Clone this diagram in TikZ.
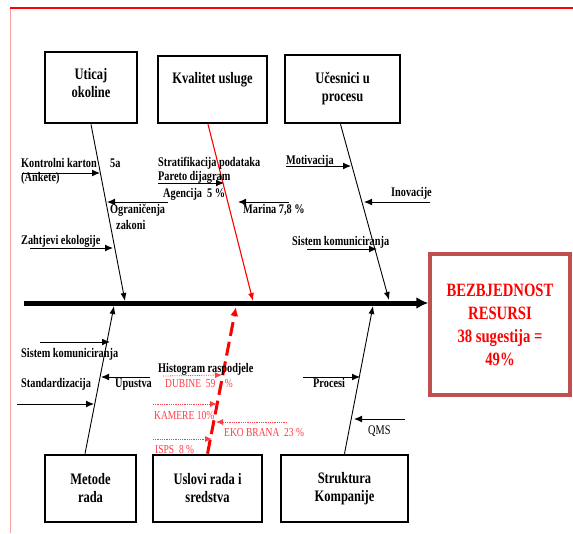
\documentclass[tikz,border=0pt]{standalone}
\usepackage{fontspec}
\setmainfont{Liberation Serif}[FakeStretch=0.78]
\usetikzlibrary{arrows.meta,positioning}
\definecolor{fishred}{RGB}{255,0,0}
\definecolor{notered}{RGB}{255,60,70}
\definecolor{boxred}{RGB}{192,80,77}
\definecolor{framepink}{RGB}{245,160,160}

\begin{document}
\begin{tikzpicture}[x=1pt, y=-1pt,
    cause/.style={draw, line width=2.6pt, align=center, inner sep=0pt,
        font=\bfseries\fontsize{16}{18}\selectfont},
    txt/.style={anchor=base west, inner sep=0pt,
        font=\bfseries\fontsize{13.2}{15}\selectfont},
    note/.style={anchor=base west, inner sep=0pt, text=notered,
        font=\fontsize{12.2}{14}\selectfont},
    bone/.style={-{Latex[length=8pt,width=6pt]}, line width=0.9pt},
    sub/.style={-{Latex[length=8pt,width=7pt]}, line width=1pt},
    dots/.style={densely dotted, notered, line width=0.8pt,
        -{Latex[length=7pt,width=6pt]}},
]
    \useasboundingbox (0,0) rectangle (573,533);

    % frame
    \draw[framepink, line width=1pt] (10.5,8) -- (10.5,533);
    \draw[fishred, line width=1.2pt] (10,8) -- (573,8);

    % causes
    \node[cause, minimum width=92, minimum height=71] (uticaj) at (91,87.5)
        {Uticaj\\okoline\\[-8pt]\mbox{}};
    \node[cause, minimum width=109, minimum height=67] (kvalitet) at (212.5,89.5)
        {Kvalitet usluge\\[6pt]\mbox{}};
    \node[cause, minimum width=115, minimum height=68] (ucesnici) at (342.5,89)
        {Učesnici u\\procesu};
    \node[cause, minimum width=91, minimum height=67] (metode) at (90.5,488.5)
        {Metode\\rada};
    \node[cause, minimum width=109, minimum height=67] (uslovi) at (207.5,488.5)
        {Uslovi rada i\\sredstva};
    \node[cause, minimum width=127, minimum height=67] (struktura) at (344.5,488.5)
        {Struktura\\Kompanije};

    % effect
    \node[draw=boxred, line width=3.5pt, minimum width=140, minimum height=141,
        align=center, text=fishred, font=\bfseries\fontsize{18.8}{23}\selectfont]
        (posljedica) at (500,324.5)
        {BEZBJEDNOST\\RESURSI\\38 sugestija =\\49\%};

    % spine
    \coordinate (rep) at (24,303);
    \draw[line width=5pt, -{Latex[length=12pt,width=12pt]}] (rep) -- (rep -| posljedica.west);

    % bones
    \coordinate (t1) at (125,301);
    \coordinate (t2) at (253,301);
    \coordinate (t3) at (389,300);
    \coordinate (b1) at (114,306);
    \coordinate (b2) at (236,307);
    \coordinate (b3) at (373,306);
    \draw[bone] (uticaj.south) -- (t1);
    \draw[bone, fishred, line width=1.1pt] ([xshift=-4.5pt]kvalitet.south) -- (t2);
    \draw[bone] ([xshift=-2pt]ucesnici.south) -- (t3);
    \draw[bone] ([xshift=-5.5pt]metode.north) -- (b1);
    \draw[fishred, line width=3pt, dash pattern=on 14pt off 6pt,
        -{Latex[length=9pt,width=8pt]}] (uslovi.north) -- (b2);
    \draw[bone] (struktura.north) -- (b3);

    % sub causes, top
    \node[txt] (kontrolni) at (21,167) {Kontrolni karton};
    \node[txt] (pet) at (110,167) {5a};
    \node[txt] (ankete) at (21,181) {(Ankete)};
    \node[txt] (ogranicenja) at (110,213) {Ograničenja};
    \node[txt] (zakoni) at (116,229) {zakoni};
    \node[txt] (zahtjevi) at (21,244) {Zahtjevi ekologije};
    \node[txt] (stratif) at (158,166) {Stratifikacija podataka};
    \node[txt] (pareto) at (158,180) {Pareto dijagram};
    \node[txt] (agencija) at (163,197) {Agencija~~5~\%};
    \node[txt] (marina) at (243,213) {Marina 7,8~\%};
    \node[txt] (motivacija) at (286,164) {Motivacija};
    \node[txt] (inovacije) at (391,196) {Inovacije};
    \node[txt] (sistemg) at (292,245) {Sistem komuniciranja};

    \coordinate (a1) at (22,173);  \coordinate (a1e) at (100,173);
    \coordinate (a2) at (168,202); \coordinate (a2e) at (107,202);
    \coordinate (a3) at (30,248);  \coordinate (a3e) at (113,248);
    \coordinate (a4) at (158,183); \coordinate (a4e) at (224,183);
    \coordinate (a5) at (289,202); \coordinate (a5e) at (238,202);
    \coordinate (a6) at (286,166); \coordinate (a6e) at (351,166);
    \coordinate (a7) at (430,202); \coordinate (a7e) at (364,202);
    \coordinate (a8) at (307,249); \coordinate (a8e) at (377,249);
    \draw[sub] (a1) -- (a1e);
    \draw[sub] (a2) -- (a2e);
    \draw[sub] (a3) -- (a3e);
    \draw[sub] (a4) -- (a4e);
    \draw[sub] (a5) -- (a5e);
    \draw[sub] (a6) -- (a6e);
    \draw[sub] (a7) -- (a7e);
    \draw[sub] (a8) -- (a8e);

    % sub causes, bottom
    \node[txt] (sistemd) at (21,357) {Sistem komuniciranja};
    \node[txt] (standard) at (21,387) {Standardizacija};
    \node[txt] (upustva) at (115,387) {Upustva};
    \node[txt] (histogram) at (158,372) {Histogram raspodjele};
    \node[txt] (procesi) at (313,387) {Procesi};
    \node[txt, font=\fontsize{13.2}{15}\selectfont] (qms) at (368,434) {QMS};

    \node[note] (dubine) at (165,387) {DUBINE~~59~~~~\%};
    \node[note] (kamere) at (154,419) {KAMERE 10\%};
    \node[note] (ekobrana) at (224,436) {EKO BRANA~~23~\%};
    \node[note] (isps) at (155,453) {ISPS~~8~\%};

    \coordinate (a9) at (40,342);   \coordinate (a9e) at (110,342);
    \coordinate (a10) at (150,377); \coordinate (a10e) at (101,377);
    \coordinate (a11) at (17,404);  \coordinate (a11e) at (94,404);
    \coordinate (a12) at (303,377); \coordinate (a12e) at (360,377);
    \coordinate (a13) at (405,419); \coordinate (a13e) at (354,419);
    \draw[sub] (a9) -- (a9e);
    \draw[sub] (a10) -- (a10e);
    \draw[sub] (a11) -- (a11e);
    \draw[sub] (a12) -- (a12e);
    \draw[sub] (a13) -- (a13e);

    \coordinate (d1) at (163,376); \coordinate (d1e) at (222,375);
    \coordinate (d2) at (153,404); \coordinate (d2e) at (217,404);
    \coordinate (d3) at (287,422); \coordinate (d3e) at (216,422);
    \coordinate (d4) at (153,439); \coordinate (d4e) at (212,439);
    \draw[dots] (d1) -- (d1e);
    \draw[dots] (d2) -- (d2e);
    \draw[dots] (d3) -- (d3e);
    \draw[dots] (d4) -- (d4e);
\end{tikzpicture}
\end{document}
